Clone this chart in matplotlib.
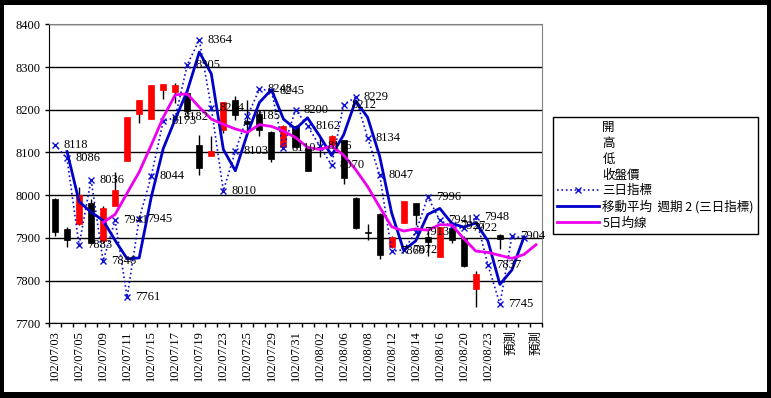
import matplotlib
matplotlib.use('Agg')
import matplotlib.pyplot as plt
from matplotlib.lines import Line2D
from matplotlib.patches import Rectangle
from matplotlib.font_manager import FontProperties

# categories (trading days + forecast slots)
categories = ['102/07/03', '102/07/04', '102/07/05', '102/07/08', '102/07/09', '102/07/10',
              '102/07/11', '102/07/12', '102/07/15', '102/07/16', '102/07/17', '102/07/18',
              '102/07/19', '102/07/22', '102/07/23', '102/07/24', '102/07/25', '102/07/26',
              '102/07/29', '102/07/30', '102/07/31', '102/08/01', '102/08/02', '102/08/05',
              '102/08/06', '102/08/07', '102/08/08', '102/08/09', '102/08/12', '102/08/13',
              '102/08/14', '102/08/15', '102/08/16', '102/08/19', '102/08/20', '102/08/22',
              '102/08/23', '預測', '預測', '預測', '預測']

# stock series: 開 高 低 收盤價
opens = [7991, 7921, 7932, 7981, 7892, 7975, 8080, 8190, 8179, 8246, 8241, 8238, 8117, 8092,
         8153, 8223, 8174, 8190, 8149, 8113, 8162, 8110, 8113, 8117, 8129, 7994, 7913, 7956,
         7878, 7935, 7981, 7903, 7856, 7922, 7897, 7780, None, 7907, None, None, None]
highs = [7993, 7925, 8018, 7991, 7975, 8055, 8182, 8222, 8257, 8261, 8262, 8245, 8141, 8138,
         8219, 8233, 8223, 8196, 8150, 8164, 8165, 8112, 8135, 8140, 8130, 7995, 7932, 7958,
         7904, 7987, 7982, 7915, 7926, 7925, 7905, 7823, None, 7908, None, None, None]
lows = [7905, 7879, 7930, 7885, 7888, 7974, 8080, 8170, 8178, 8224, 8215, 8190, 8048, 8092,
        8145, 8176, 8150, 8138, 8078, 8113, 8110, 8056, 8090, 8115, 8027, 7920, 7894, 7850,
        7877, 7935, 7929, 7858, 7855, 7888, 7832, 7737, None, 7875, None, None, None]
closes = [7914, 7895, 8001, 7887, 7971, 8011, 8182, 8222, 8257, 8261, 8259, 8196, 8064, 8104,
          8217, 8188, 8166, 8153, 8085, 8162, 8113, 8057, 8110, 8138, 8039, 7922, 7911, 7860,
          7903, 7986, 7954, 7891, 7925, 7895, 7834, 7815, None, 7898, None, None, None]

# 三日指標
three_day = [8118, 8086, 7883, 8036, 7846, 7941, 7761, 7945, 8044, 8173, 8182, 8305, 8364, 8204,
             8010, 8103, 8185, 8248, 8245, 8110, 8200, 8162, 8116, 8070, 8212, 8229, 8134, 8047,
             7869, 7872, 7913, 7996, 7941, 7927, 7922, 7948, 7837, 7745, 7904, 7900, None]

# 移動平均 週期 2 (三日指標)
ma2 = [None, 8102, 7985, 7960, 7941, 7894, 7851, 7853, 7995, 8109, 8178, 8244, 8335, 8284,
       8107, 8057, 8144, 8217, 8247, 8178, 8155, 8181, 8139, 8093, 8141, 8221, 8182, 8091,
       7958, 7871, 7893, 7955, 7969, 7934, 7925, 7935, 7893, 7791, 7825, 7902, None]

# 5日均線
ma5 = [None, None, None, None, 7936, 7955, 8005, 8054, 8117, 8182, 8235, 8237, 8206, 8178,
       8166, 8155, 8147, 8165, 8161, 8150, 8135, 8112, 8107, 8115, 8094, 8060, 8020, 7972,
       7926, 7916, 7921, 7918, 7931, 7930, 7898, 7869, 7866, 7859, 7852, 7861, 7884]

legend_labels = ['開', '高', '低', '收盤價', '三日指標', '移動平均  週期 2 (三日指標)', '5日均線']

serif = ['Liberation Serif', 'Noto Sans CJK TC']
cjk = ['Noto Sans CJK TC', 'DejaVu Sans']

fig = plt.figure(figsize=(7.71, 3.98), dpi=100)
fig.patch.set_facecolor('black')
fig.patches.append(Rectangle((4 / 771, 6 / 398), 763 / 771, 387 / 398,
                             transform=fig.transFigure, facecolor='white', zorder=-10))

ax = fig.add_axes([49 / 771, 1 - 323.3 / 398, 493 / 771, 299 / 398])
ax.set_zorder(1)
x = list(range(len(categories)))

# candlesticks
for i in x:
    if opens[i] is None:
        continue
    o, c = opens[i], closes[i]
    color = 'red' if c > o else 'black'
    ax.vlines(i, lows[i], highs[i], color='black', lw=1, zorder=3)
    ax.bar(i, max(abs(c - o), 2), bottom=min(o, c), width=0.5, color=color,
           edgecolor=color, lw=0.5, zorder=4)

# 三日指標
xs = [i for i in x if three_day[i] is not None]
ys = [three_day[i] for i in xs]
ax.plot(xs, ys, ls=':', lw=1.2, color='#1010d0', marker='x', ms=5, mew=1, zorder=5)
for i in xs[:-1]:
    ax.annotate(str(three_day[i]), (i, three_day[i]), xytext=(6, 0),
                textcoords='offset points', va='center', ha='left',
                fontsize=9, family=serif, zorder=7)

# moving average period 2
xm = [i for i in x if ma2[i] is not None]
ax.plot(xm, [ma2[i] for i in xm], color='#0000c8', lw=2, zorder=6)

# 5日均線
x5 = [i for i in x if ma5[i] is not None]
ax.plot(x5, [ma5[i] for i in x5], color='#ee00ee', lw=2, zorder=6)

ax.set_xlim(-0.5, len(categories) - 0.5)
ax.set_ylim(7700, 8400)
ax.set_yticks(range(7700, 8401, 100))
ax.yaxis.grid(True, color='black', lw=1)
ax.set_axisbelow(True)
for lab in ax.get_yticklabels():
    lab.set_fontfamily(serif)
    lab.set_fontsize(9)
ax.tick_params(axis='y', length=3, width=1, pad=3)

ax.set_xticks(x[::2])
ax.set_xticklabels(categories[::2], rotation=90, fontsize=9, family=serif)
ax.set_xticks([i - 0.5 for i in x] + [len(x) - 0.5], minor=True)
ax.tick_params(axis='x', which='major', length=0, pad=5)
ax.tick_params(axis='x', which='minor', length=3, width=1)

ax.spines['left'].set_color('black')
ax.spines['bottom'].set_color('black')
ax.spines['top'].set_color('#808080')
ax.spines['right'].set_color('#808080')

handles = [Line2D([], [], ls='none')] * 4 + [
    Line2D([], [], ls=':', lw=1.2, color='#1010d0', marker='x', ms=5),
    Line2D([], [], color='#0000c8', lw=2),
    Line2D([], [], color='#ee00ee', lw=2),
]
leg = fig.legend(handles, legend_labels, loc='upper left',
                 bbox_to_anchor=(553 / 771, 1 - 117 / 398), bbox_transform=fig.transFigure,
                 frameon=True, fancybox=False, edgecolor='black', framealpha=1,
                 borderaxespad=0, borderpad=0.35, handlelength=3.3, handletextpad=0.3,
                 labelspacing=0.22, prop=FontProperties(family=cjk, size=9))
leg.get_frame().set_linewidth(1)
leg.set_zorder(5)

fig.savefig('out.png', dpi=100, facecolor=fig.get_facecolor())
